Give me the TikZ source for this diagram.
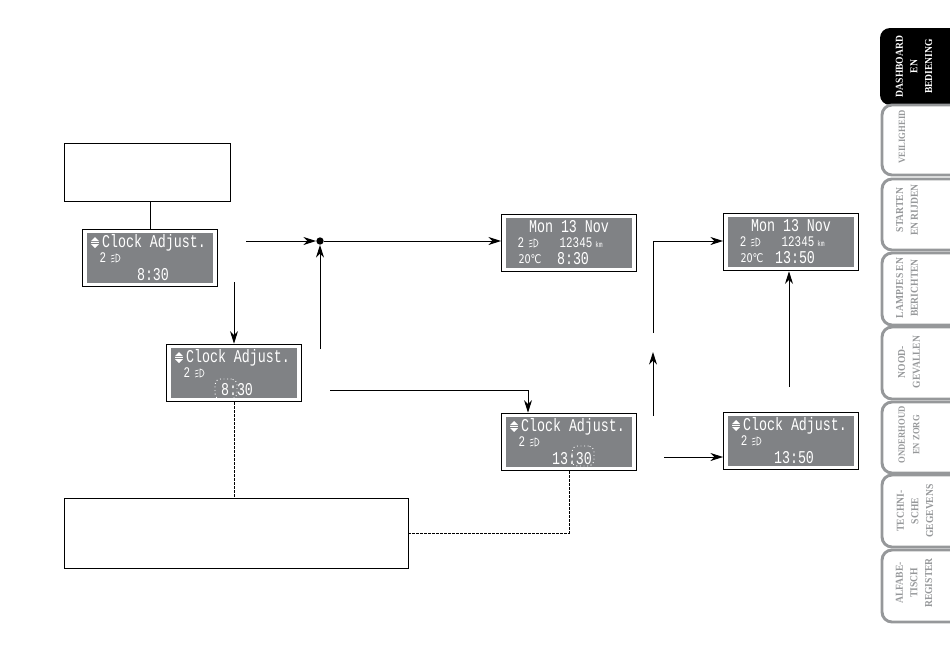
\documentclass[tikz,border=0pt]{standalone}
\usepackage{fontspec}
\usetikzlibrary{arrows.meta}
\newfontfamily\lcdfont[FakeStretch=0.74]{Liberation Mono}
\newfontfamily\degfont[FakeStretch=0.8]{DejaVu Sans}
\newfontfamily\tabfont[FakeStretch=0.9]{Liberation Serif}
\definecolor{lcdgray}{RGB}{128,130,133}
\definecolor{tabgray}{RGB}{150,152,154}
\tikzset{
  screen/.style={draw,line width=0.9pt,fill=white,inner sep=0pt,minimum width=101pt,minimum height=43pt},
  lcd/.style={fill=lcdgray,inner sep=0pt,minimum width=95pt,minimum height=37.5pt},
  lcdtext/.style={text=white,inner sep=0pt,font=\lcdfont\fontsize{13.5}{14}\selectfont},
  lcdsmall/.style={text=white,inner sep=0pt,font=\lcdfont\fontsize{11}{12}\selectfont},
  notebox/.style={draw,line width=0.7pt,inner sep=0pt},
  digitmark/.style={draw=white,dotted,line width=0.7pt,rounded corners=4pt,inner sep=0pt,minimum width=16.5pt,minimum height=15pt},
  flow/.style={line width=0.7pt,-{Stealth[length=9.5pt,width=6pt,inset=3pt]}},
  plain/.style={line width=0.7pt},
  leader/.style={line width=0.6pt,dash pattern=on 1.8pt off 1.2pt},
  tablabel/.style={rotate=90,align=center,inner sep=0pt,text=tabgray,font=\tabfont\bfseries\fontsize{8}{11}\selectfont},
  tabnarrow/.style={font=\tabfont\bfseries\fontsize{7.2}{11}\selectfont},
  lamp/.pic={
    \draw [white,line width=0.5pt] (0,4) arc (90:-90:4) -- cycle;
    \foreach \t in {-3,0,3}
      \draw [white,line width=0.5pt] (-5,\t+1) -- (-1.5,\t);
  },
  updown/.pic={
    \fill [white] (-4,-1) -- (0,-5) -- (4,-1) -- cycle;
    \fill [white] (-4,2) -- (0,6) -- (4,2) -- cycle;
    \draw [white,line width=0.4pt] (-4,0.5) -- (4,0.5);
  }
}
\begin{document}
\begin{tikzpicture}[x=0.75pt,y=-0.75pt]
  \useasboundingbox (0,0) rectangle (950,671);
  % text boxes
  \node (topnote) at (147.5,172) [notebox,minimum width=125pt,minimum height=43.5pt] {};
  \node (bottomnote) at (236.5,533) [notebox,minimum width=258.5pt,minimum height=52.5pt] {};
  % clock adjust screens
  \foreach \name/\x/\y/\clock in {clockA/150/258/8:30,clockB/234/373/8:30,clockE/569/442/13:30,clockF/791/441/13:50} {
    \node (\name) at (\x,\y) [screen] {};
    \node (\name lcd) at (\x,\y) [lcd] {};
    \pic at (\x-55,\y-16) {updown};
    \node (\name title) at (\x+4,\y-15) [lcdtext] {Clock Adjust.};
    \node (\name gear) at (\x-47,\y) [lcdsmall] {2};
    \pic at (\x-34,\y) {lamp};
    \node (\name time) at (\x+3,\y+17) [lcdtext] {\clock};
  }
  % date screens
  \foreach \name/\x/\y/\clock in {dateC/569/243/8:30,dateD/791/242/13:50} {
    \node (\name) at (\x,\y) [screen] {};
    \node (\name lcd) at (\x,\y) [lcd] {};
    \node (\name title) at (\x,\y-16) [lcdtext] {Mon 13 Nov};
    \node (\name gear) at (\x-48,\y) [lcdsmall] {2};
    \pic at (\x-35,\y) {lamp};
    \node (\name trip) at (\x+7,\y) [lcdsmall] {12345};
    \node (\name km) at (\x+30,\y+2) [text=white,inner sep=0pt,font=\lcdfont\fontsize{6}{7}\selectfont] {km};
    \node (\name temp) at (\x-39,\y+16) [text=white,inner sep=0pt,font=\degfont\fontsize{9}{10}\selectfont] {20℃};
    \node (\name time) at (\x+4,\y+16) [lcdtext] {\clock};
  }
  \node (markB) at (226,389) [digitmark] {};
  \node (markE) at (583,456) [digitmark] {};
  % junction
  \node (junction) at (320,241) [circle,fill,inner sep=0pt,minimum size=5.5pt] {};
  \coordinate (fromA) at (246,241);
  \coordinate (downA) at (234,282);
  \coordinate (upB) at (320,349);
  \coordinate (fromB) at (330,390);
  \coordinate (bendB) at (528,390);
  \coordinate (upE) at (653,416);
  \coordinate (upEtip) at (653,352);
  \coordinate (upG) at (653,333);
  \coordinate (bendG) at (653,241);
  \coordinate (fromE) at (664,457);
  \coordinate (upF) at (789,387);
  % connectors
  \draw [plain] (clockA.north) -- (clockA.north |- topnote.south);
  \draw [flow] (fromA) -- (junction.west);
  \draw [flow] (upB) -- (junction.south);
  \draw [flow] (junction.east) -- (junction.east -| dateC.west);
  \draw [flow] (downA) -- (clockB.north);
  \draw [flow] (fromB) -- (bendB) -- (bendB |- clockE.north);
  \draw [flow] (upE) -- (upEtip);
  \draw [flow] (upG) -- (bendG) -- (bendG -| dateD.west);
  \draw [flow] (fromE) -- (fromE -| clockF.west);
  \draw [flow] (upF) -- (upF |- dateD.south);
  \draw [leader] (clockB.south) -- (clockB.south |- bottomnote.north);
  \draw [leader] (clockE.south) -- (clockE.south |- bottomnote.east) -- (bottomnote.east);
  % side tabs
  \fill [black,rounded corners=7.5pt] (960,28) -- (880,28) -- (880,105) [sharp corners] -- (960,105) -- cycle;
  \foreach \top/\bot in {105/175,179/250,253/325,327/399,402/473,475/547,550/622}
    \draw [tabgray,line width=2.2pt,rounded corners=7.5pt] (952,\top) -- (882,\top) -- (882,\bot) -- (952,\bot);
  \node (tabdash) at (914,66.5) [tablabel,text=white] {DASHBOARD\\EN\\BEDIENING};
  \node (tabsafe) at (902,137) [tablabel,tabnarrow] {VEILIGHEID};
  \node (tabstart) at (907,210) [tablabel] {STARTEN\\EN RIJDEN};
  \node (tablamp) at (907,288) [tablabel] {LAMPJES EN\\BERICHTEN};
  \node (tabhelp) at (909,362) [tablabel] {NOOD-\\GEVALLEN};
  \node (tabcare) at (909,435) [tablabel,tabnarrow] {ONDERHOUD\\EN ZORG};
  \node (tabdata) at (915,511) [tablabel] {TECHNI-\\SCHE\\GEGEVENS};
  \node (tabindex) at (914,583) [tablabel] {ALFABE-\\TISCH\\REGISTER};
\end{tikzpicture}
\end{document}
